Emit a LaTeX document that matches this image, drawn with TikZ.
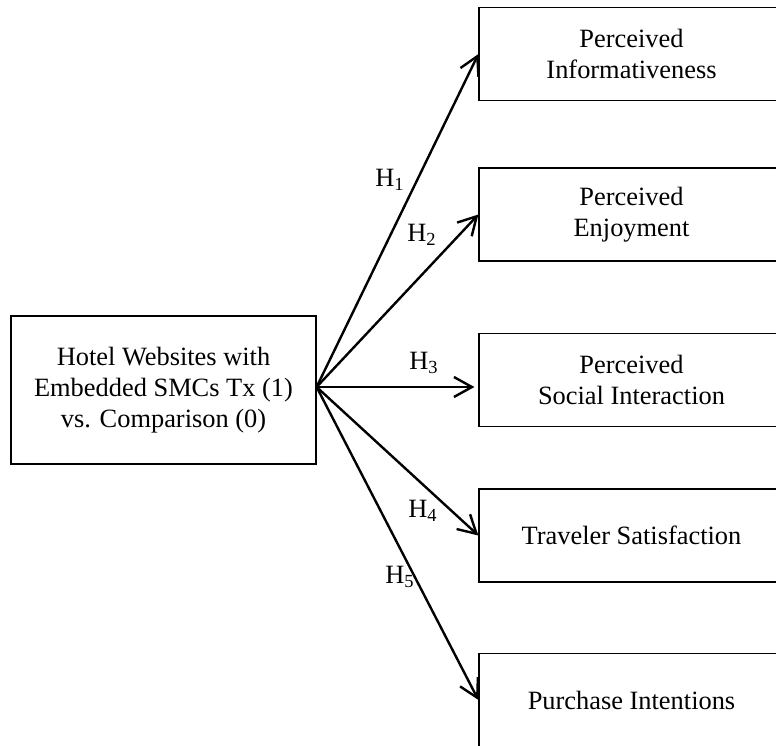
\documentclass[tikz,border=0pt]{standalone}
\usepackage{fontspec}
\setmainfont{Liberation Serif}
\usetikzlibrary{arrows.meta, positioning, calc}

\tikzset{
  construct/.style={draw, line width=0.6pt, inner sep=0pt, align=center,
    minimum width=152.5pt, minimum height=46.5pt},
  hyp/.style={line width=1.2pt, -{Straight Barb[length=9pt,width=10pt,line width=1.2pt]}},
  hlabel/.style={inner sep=0pt}
}

\begin{document}
\begin{tikzpicture}[x=0.5pt, y=0.5pt, font=\fontsize{13.2}{15.5}\selectfont]
        \useasboundingbox (0,0) rectangle (776,745);
        \clip (0,0) rectangle (776,745);
        % Treatment and outcome constructs
        \node[construct, minimum height=74pt] (src) at (163.5,355) {Hotel Websites with\\Embedded SMCs Tx (1)\\vs. Comparison (0)};
        \node[construct] (info) at (631.5,691) {Perceived\\Informativeness};
        \node[construct] (enjoy) at (631.5,530.5) {Perceived\\Enjoyment};
        \node[construct] (social) at (631.5,365) {Perceived\\Social Interaction};
        \node[construct] (satis) at (631.5,209.5) {Traveler Satisfaction};
        \node[construct] (purch) at (631.5,45) {Purchase Intentions};
        \coordinate (o) at (src.east |- 0,358);
        % Hypothesised paths
        \draw[hyp] (o) -- (info.west);
        \draw[hyp] (o) -- (enjoy.west);
        \draw[hyp] (o) -- ($(social.west |- o)+(-4,0)$);
        \draw[hyp] (o) -- (satis.west);
        \draw[hyp] (o) -- (purch.west);
        \node[hlabel] (h1) at (390,565) {H\textsubscript{1}};
        \node[hlabel] (h2) at (422,510) {H\textsubscript{2}};
        \node[hlabel] (h3) at (424,382) {H\textsubscript{3}};
        \node[hlabel] (h4) at (423,234) {H\textsubscript{4}};
        \node[hlabel] (h5) at (400,168) {H\textsubscript{5}};
      \end{tikzpicture}
\end{document}
